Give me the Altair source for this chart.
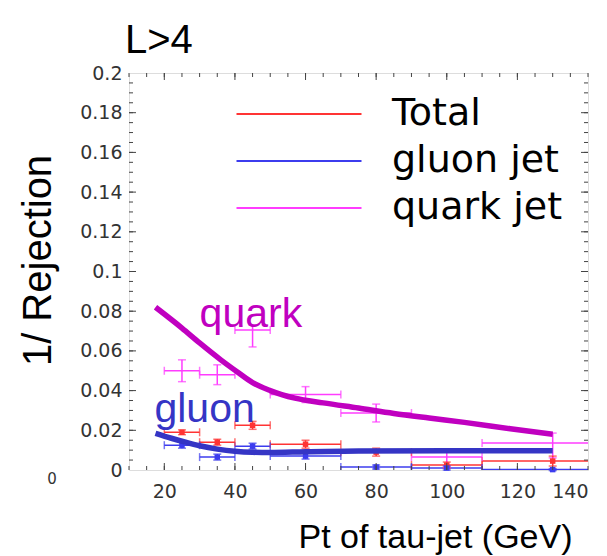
import altair as alt
import pandas as pd

# Pt bins (GeV) shared by the three samples
bin_lo = [20, 30, 40, 50, 70, 90, 110]
bin_hi = [30, 40, 50, 70, 90, 110, 150]
bin_mid = [25, 35, 45, 60, 80, 100, 130]

series_names = ["Total", "gluon jet", "quark jet"]
series_colors = ["#ff3434", "#3c3cee", "#ff3cff"]

# 1/rejection per bin with its uncertainty
total_val = [0.019, 0.014, 0.0225, 0.013, 0.009, 0.0025, 0.0045]
total_err = [0.0012, 0.0015, 0.002, 0.002, 0.002, 0.0015, 0.0025]
gluon_val = [0.0125, 0.0065, 0.012, 0.007, 0.0015, 0.001, 0.0002]
gluon_err = [0.0015, 0.0015, 0.0015, 0.0015, 0.001, 0.001, 0.0005]
quark_val = [0.050, 0.048, 0.0705, 0.038, 0.0287, 0.0065, 0.0136]
quark_err_dn = [0.0055, 0.005, 0.0085, 0.004, 0.0045, 0.005, 0.0075]
quark_err_up = [0.0055, 0.005, 0.0025, 0.004, 0.0045, 0.0025, 0.005]

# smooth trend curves
quark_fit_pt = [17.5, 25, 30, 36, 41, 45, 50, 57, 65, 75, 85, 95, 105, 118, 130]
quark_fit_val = [0.082, 0.0715, 0.064, 0.0555, 0.049, 0.044, 0.040, 0.0362,
                 0.0338, 0.0312, 0.0285, 0.0262, 0.0240, 0.0208, 0.018]
gluon_fit_pt = [17.5, 22, 26, 30, 35, 40, 45, 50, 60, 75, 100, 130]
gluon_fit_val = [0.0185, 0.0160, 0.0140, 0.0122, 0.0105, 0.0094, 0.0089,
                 0.0088, 0.0092, 0.0096, 0.0097, 0.0097]

# axis labels and inward tick positions
x_labels = [20, 40, 60, 80, 100, 120, 140]
y_labels = [0, 0.02, 0.04, 0.06, 0.08, 0.1, 0.12, 0.14, 0.16, 0.18, 0.2]
x_ticks_minor = list(range(10, 141, 5))
x_ticks_major = [20, 40, 60, 80, 100, 120]
y_ticks_minor = [round(i * 0.005, 3) for i in range(1, 40)]
y_ticks_major = [0.02, 0.04, 0.06, 0.08, 0.1, 0.12, 0.14, 0.16, 0.18]

W, H = 459, 397

rows = []
for name, vals, dn, up in [
    ("quark jet", quark_val, quark_err_dn, quark_err_up),
    ("Total", total_val, total_err, total_err),
    ("gluon jet", gluon_val, gluon_err, gluon_err),
]:
    for lo, hi, mid, v, d, u in zip(bin_lo, bin_hi, bin_mid, vals, dn, up):
        rows.append({"series": name, "lo": lo, "hi": hi, "mid": mid,
                     "val": v, "ylo": v - d, "yhi": v + u})
points = pd.DataFrame(rows)

xs = alt.Scale(domain=[10, 140], nice=False)
ys = alt.Scale(domain=[0, 0.2], nice=False)
cscale = alt.Scale(domain=series_names, range=series_colors)

x_axis = alt.Axis(
    values=x_labels, ticks=False, domain=False, grid=False,
    labelFont="DejaVu Sans", labelFontSize=19, labelColor="#333333",
    labelPadding=12, title="Pt of tau-jet (GeV)",
    titleFont="Liberation Sans", titleFontSize=34, titleFontWeight="normal",
    titleColor="black", titleX=443, titleY=77, titleAlign="right",
    titleBaseline="alphabetic",
)
y_axis = alt.Axis(
    values=y_labels, format=".2~f", ticks=False, domain=False, grid=False,
    labelFont="DejaVu Sans", labelFontSize=19, labelColor="#333333",
    labelPadding=7, title="1/ Rejection",
    titleFont="Liberation Sans", titleFontSize=40, titleFontWeight="normal",
    titleColor="black", titleX=-91, titleY=187, titleAngle=270,
    titleAlign="center", titleBaseline="middle",
)


def X(field=None, **kw):
    if field is None:
        return alt.X(scale=xs, axis=x_axis, **kw)
    return alt.X(field, scale=xs, axis=x_axis, **kw)


def Y(field=None, **kw):
    if field is None:
        return alt.Y(scale=ys, axis=y_axis, **kw)
    return alt.Y(field, scale=ys, axis=y_axis, **kw)


legend = alt.Legend(
    title=None, orient="none", legendX=151, legendY=22, padding=0,
    symbolType="M-5,0H5", symbolSize=625, symbolStrokeWidth=2,
    labelFont="DejaVu Sans", labelFontSize=38, labelColor="black",
    labelOffset=74, rowPadding=9, labelLimit=0,
)

col_leg = alt.Color("series:N", scale=cscale, legend=legend)
col = alt.Color("series:N", scale=cscale, legend=None)

base = alt.Chart(points)

hbar = base.mark_rule(strokeWidth=1.5, clip=True).encode(
    x=X("lo:Q"), x2="hi:Q", y=Y("val:Q"), color=col_leg,
)
vbar = base.mark_rule(strokeWidth=1.5).encode(
    x=X("mid:Q"), y=Y("ylo:Q"), y2="yhi:Q", color=col,
)
cap_lo = base.mark_tick(orient="horizontal", size=8, thickness=1.5).encode(
    x=X("mid:Q"), y=Y("ylo:Q"), color=col,
)
cap_hi = base.mark_tick(orient="horizontal", size=8, thickness=1.5).encode(
    x=X("mid:Q"), y=Y("yhi:Q"), color=col,
)
end_lo = base.mark_tick(orient="vertical", size=8, thickness=1.5, clip=True).encode(
    x=X("lo:Q"), y=Y("val:Q"), color=col,
)
end_hi = base.mark_tick(orient="vertical", size=8, thickness=1.5, clip=True).encode(
    x=X("hi:Q"), y=Y("val:Q"), color=col,
)
markers = base.transform_filter(alt.datum.series != "quark jet").mark_square(
    size=30, opacity=1
).encode(x=X("mid:Q"), y=Y("val:Q"), color=col)

quark_curve = alt.Chart(pd.DataFrame({"pt": quark_fit_pt, "v": quark_fit_val})).mark_line(
    interpolate="monotone", strokeWidth=5.5, color="#c000c0"
).encode(x=X("pt:Q"), y=Y("v:Q"))
gluon_curve = alt.Chart(pd.DataFrame({"pt": gluon_fit_pt, "v": gluon_fit_val})).mark_line(
    interpolate="monotone", strokeWidth=5.5, color="#3535c5"
).encode(x=X("pt:Q"), y=Y("v:Q"))

quark_text = alt.Chart(pd.DataFrame({"label": ["quark"]})).mark_text(
    align="left", baseline="alphabetic", font="Liberation Sans", fontSize=41, color="#c000c0"
).encode(x=X(datum=30), y=Y(datum=0.072), text="label:N")
gluon_text = alt.Chart(pd.DataFrame({"label": ["gluon"]})).mark_text(
    align="left", baseline="alphabetic", font="Liberation Sans", fontSize=41, color="#3535c5"
).encode(x=X(datum=17.2), y=Y(datum=0.0243), text="label:N")

corner_text = alt.Chart(pd.DataFrame({"label": ["0"]})).mark_text(
    align="center", baseline="middle", font="DejaVu Sans", fontSize=15, color="#333333"
).encode(x=alt.value(-77), y=alt.value(406), text="label:N")

tick_color = "#444444"


def x_ticks(values, length, top):
    y0 = 0 if top else H
    y1 = length if top else H - length
    return alt.Chart(pd.DataFrame({"t": values})).mark_rule(color=tick_color, strokeWidth=1).encode(
        x=X("t:Q"), y=alt.value(y0), y2=alt.value(y1)
    )


def y_ticks(values, length, right):
    x0 = W if right else 0
    x1 = W - length if right else length
    return alt.Chart(pd.DataFrame({"t": values})).mark_rule(color=tick_color, strokeWidth=1).encode(
        y=Y("t:Q"), x=alt.value(x0), x2=alt.value(x1)
    )


frame_ticks = [
    x_ticks(x_ticks_minor, 4, False), x_ticks(x_ticks_major, 7, False),
    x_ticks(x_ticks_minor, 4, True), x_ticks(x_ticks_major, 7, True),
    y_ticks(y_ticks_minor, 4, False), y_ticks(y_ticks_major, 7, False),
    y_ticks(y_ticks_minor, 4, True), y_ticks(y_ticks_major, 7, True),
]

chart = alt.layer(
    hbar, vbar, cap_lo, cap_hi, end_lo, end_hi, markers,
    quark_curve, gluon_curve, quark_text, gluon_text, corner_text,
    *frame_ticks,
).properties(
    width=W, height=H,
    title=alt.TitleParams(
        text="L>4", anchor="start", frame="group", font="Liberation Sans",
        fontSize=40, fontWeight="normal", color="black", dx=-4, offset=3,
    ),
    autosize=alt.AutoSizeParams(type="none"),
    padding={"left": 129, "top": 73, "right": 19, "bottom": 86},
).configure_view(
    stroke="#777777", strokeWidth=1.5
).configure(background="white")

chart.save("out.html", embed_options={"renderer": "svg", "actions": False})
